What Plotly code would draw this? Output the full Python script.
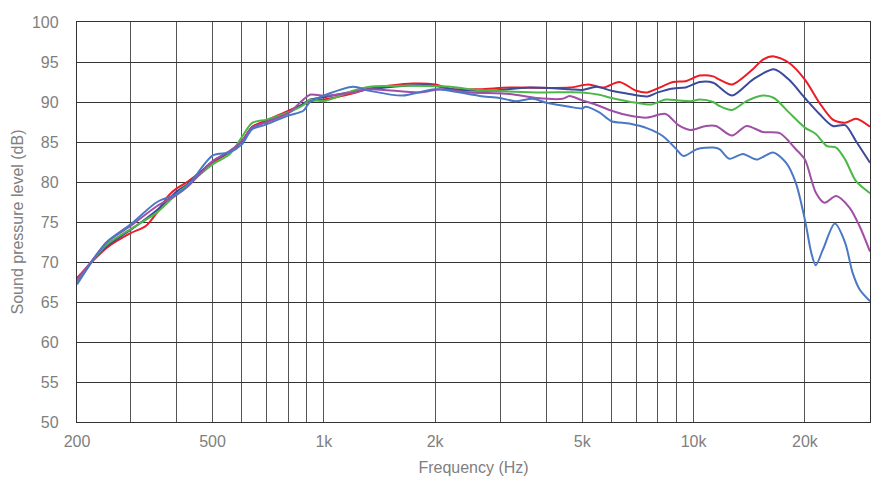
import plotly.graph_objects as go

# ---- data (frequency in Hz, level in dB) ----
red_f = [215, 238, 259, 300, 330, 354, 380, 400, 430, 500, 557, 600, 640, 700, 800, 880, 917, 1000, 1200, 1330,
         1740, 2000, 2230, 2640, 3180, 4620, 5200, 5700, 6300, 7000, 7500, 8000, 8800, 9500, 10400, 11300, 11750,
         12700, 14460, 15400, 16500, 18100, 20000, 21900, 23800, 25700, 27500, 30000]
red_db = [68.0, 70.2, 71.8, 73.6, 74.5, 76.2, 78.3, 79.2, 80.1, 82.4, 83.8, 85.1, 86.9, 87.7, 88.9, 89.7, 90.1, 90.3, 91.1, 91.7,
          92.3, 92.2, 91.6, 91.6, 91.8, 91.8, 92.2, 91.8, 92.5, 91.4, 91.2, 91.7, 92.5, 92.6, 93.3, 93.2, 92.8,
          92.2, 94.1, 95.3, 95.7, 94.9, 92.8, 89.9, 87.8, 87.4, 87.9, 86.9]

navy_f = [215, 238, 259, 300, 354, 400, 430, 500, 557, 600, 640, 700, 800, 880, 917, 1000, 1200, 1330, 1930, 2230,
          2760, 3600, 4620, 5000, 5470, 6000, 6700, 7500, 8000, 8800, 9500, 10400, 11300, 12700, 14460, 16500,
          18100, 20000, 21900, 23800, 25700, 27500, 30000]
navy_db = [67.5, 70.3, 72.0, 74.0, 76.5, 78.8, 79.8, 82.6, 83.8, 85.1, 86.8, 87.5, 88.6, 89.8, 90.3, 90.6, 91.3, 91.6, 92.1, 91.6,
           91.4, 91.8, 91.6, 91.5, 91.9, 91.4, 91.0, 90.7, 91.2, 91.7, 91.8, 92.5, 92.4, 90.8, 92.8, 94.1,
           92.8, 90.5, 88.5, 87.0, 87.1, 85.1, 82.4]

green_f = [215, 238, 259, 300, 354, 400, 430, 500, 557, 600, 640, 700, 800, 880, 917, 1000, 1200, 1330, 2200, 2480,
           3760, 5000, 5560, 6000, 7000, 7700, 8400, 9100, 9800, 10400, 11300, 11750, 12700, 13900, 15400, 16500,
           18100, 20000, 21400, 22900, 24300, 25700, 27500, 30000]
green_db = [67.4, 70.3, 72.2, 74.1, 76.2, 78.5, 79.7, 82.2, 83.5, 85.6, 87.4, 87.8, 88.7, 89.6, 90.3, 90.1, 91.4, 91.9, 91.9, 91.6,
            91.2, 91.2, 90.9, 90.5, 89.9, 89.7, 90.3, 90.2, 90.1, 90.3, 90.0, 89.5, 89.0, 90.1, 90.8, 90.5,
            88.7, 86.8, 86.0, 84.5, 84.3, 82.8, 80.1, 78.6]

purple_f = [215, 238, 259, 300, 354, 400, 430, 500, 557, 600, 640, 700, 800, 880, 917, 1000, 1200, 1330, 1820, 2060,
            2480, 3180, 3760, 4420, 4620, 5000, 5500, 6000, 6700, 7500, 8400, 9100, 9800, 10800, 11500, 12700,
            13900, 15400, 17100, 18900, 20000, 21400, 22600, 24300, 26400, 28100, 30000]
purple_db = [67.8, 70.4, 72.5, 74.5, 77.0, 78.4, 79.5, 82.6, 83.9, 85.1, 86.8, 87.5, 88.6, 90.3, 90.9, 90.8, 91.2, 91.6, 91.2, 91.6,
             91.2, 91.0, 90.5, 90.4, 90.75, 90.2, 89.6, 88.9, 88.3, 88.05, 88.5, 87.1, 86.5, 87.0, 87.0, 85.8,
             87.0, 86.25, 86.1, 84.1, 82.8, 78.7, 77.4, 78.25, 76.8, 74.5, 71.3]

blue_f = [215, 238, 259, 300, 354, 400, 430, 500, 557, 600, 640, 700, 800, 880, 917, 1000, 1200, 1330, 1630, 2000,
          2640, 2990, 3300, 3670, 4000, 4620, 5000, 5100, 5560, 6000, 6700, 7500, 8250, 8900, 9400, 10200, 11300,
          11750, 12500, 13600, 14800, 16400, 17800, 18900, 20000, 20800, 21400, 22400, 24100, 25700, 26900,
          28100, 30000]
blue_db = [67.2, 70.3, 72.5, 74.7, 77.5, 78.5, 79.6, 83.3, 83.7, 84.7, 86.6, 87.2, 88.3, 88.9, 90.0, 90.8, 91.9, 91.4, 90.8, 91.6,
           90.75, 90.5, 90.1, 90.4, 89.9, 89.4, 89.2, 89.4, 88.7, 87.6, 87.3, 86.7, 85.75, 84.3, 83.25, 84.1, 84.3,
           84.1, 82.9, 83.5, 82.8, 83.7, 82.4, 79.9, 75.3, 71.2, 69.6, 71.6, 74.8, 72.4, 68.7,
           66.6, 65.1]

x_tick_vals = [215, 300, 400, 500, 600, 700, 800, 900, 1000, 2000, 3000, 4000, 5000, 6000, 7000, 8000, 9000,
               10000, 20000]
x_tick_text = ["200", "", "", "500", "", "", "", "", "1k", "2k", "", "", "5k", "", "", "", "", "10k", "20k"]
y_tick_vals = [50, 55, 60, 65, 70, 75, 80, 85, 90, 95, 100]

series = [
    ("red", red_f, red_db, "#ec1c24"),
    ("navy", navy_f, navy_db, "#3b4a9b"),
    ("green", green_f, green_db, "#4cb848"),
    ("purple", purple_f, purple_db, "#a04fa7"),
    ("blue", blue_f, blue_db, "#4a78c5"),
]

fig = go.Figure()
for name, f, db, col in series:
    fig.add_trace(go.Scatter(x=f, y=db, mode="lines", name=name,
                             line=dict(color=col, width=2, shape="spline", smoothing=0.8),
                             showlegend=False, hoverinfo="skip"))

font_col = "#808080"
fig.update_layout(
    width=881, height=478,
    margin=dict(l=77, r=11, t=22, b=56),
    paper_bgcolor="white", plot_bgcolor="white",
    font=dict(family="Liberation Sans, Arial, sans-serif", size=16, color=font_col),
)
fig.update_xaxes(
    type="log", range=[2.3324, 4.4771], automargin=False,
    tickvals=x_tick_vals, ticktext=x_tick_text,
    showgrid=True, gridcolor="#555555", gridwidth=1.4,
    showline=True, linecolor="#333333", linewidth=1.4, mirror=True,
    ticks="outside", ticklen=5, tickcolor="rgba(0,0,0,0)",
    zeroline=False,
    title=dict(text="Frequency (Hz)", standoff=12, font=dict(size=16, color=font_col)),
    tickfont=dict(size=16, color=font_col),
)
fig.update_yaxes(
    range=[50, 100], tickvals=y_tick_vals, automargin=False,
    showgrid=True, gridcolor="#333333", gridwidth=1.3,
    showline=True, linecolor="#333333", linewidth=1.4, mirror=True,
    ticks="outside", ticklen=14, tickcolor="rgba(0,0,0,0)",
    zeroline=False,
    title=dict(text="Sound pressure level (dB)", standoff=4, font=dict(size=16, color=font_col)),
    tickfont=dict(size=16, color=font_col),
)

fig.write_html("out.html")
